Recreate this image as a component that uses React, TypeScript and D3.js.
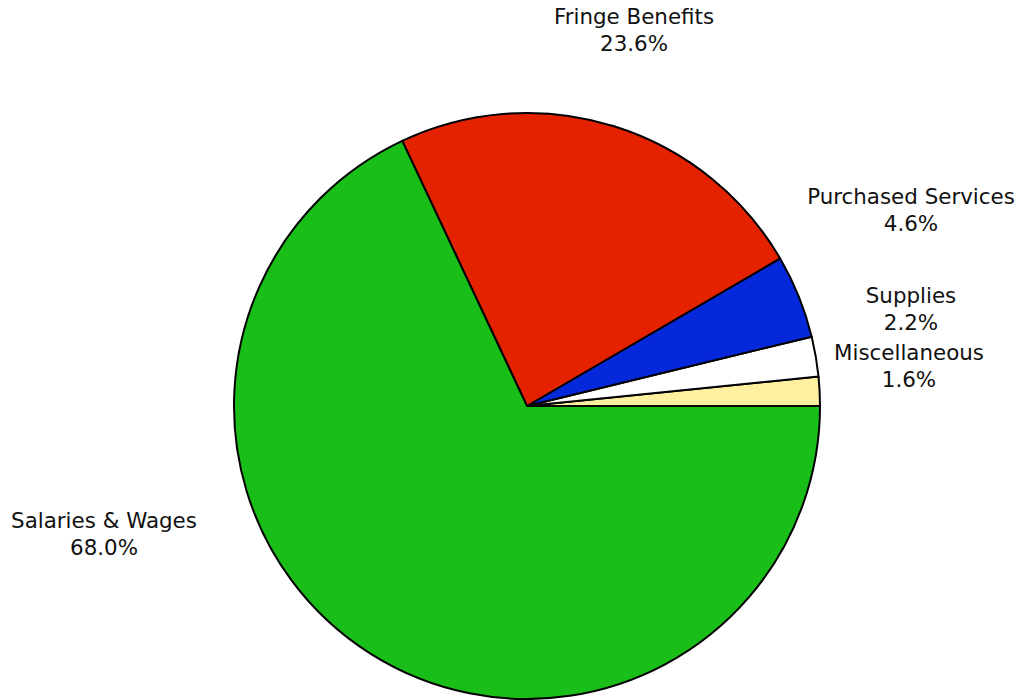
import React, { useEffect } from "react";
import * as d3 from "d3";

const categories = ["Miscellaneous", "Supplies", "Purchased Services", "Fringe Benefits", "Salaries & Wages"];
const values = [1.6, 2.2, 4.6, 23.6, 68.0];
const colors = ["#FFF0A0", "#FFFFFF", "#0628DB", "#E52200", "#19BE19"];
// label centre offsets from pie centre (layout, not data)
const labelOffsets: [number, number][] = [
  [382, -40],
  [384, -97],
  [384, -196],
  [107, -376],
  [-423, 128],
];

const W = 1020;
const H = 700;
const cx = 527;
const cy = 406;
const R = 293;

export default function App() {
  useEffect(() => {
    document.body.style.margin = "0";
  }, []);

  const pie = d3
    .pie<number>()
    .sort(null)
    .value((d) => d)
    .startAngle(Math.PI / 2)
    .endAngle(Math.PI / 2 - 2 * Math.PI);
  const arcs = pie(values);
  const arcGen = d3.arc<d3.PieArcDatum<number>>().innerRadius(0).outerRadius(R);

  return (
    <svg width={W} height={H} style={{ display: "block", background: "#fff" }}>
      <g transform={`translate(${cx},${cy})`}>
        {arcs.map((a, i) => (
          <path key={i} d={arcGen(a) || ""} fill={colors[i]} stroke="#000" strokeWidth={2} strokeLinejoin="round" />
        ))}
        {arcs.map((a, i) => {
          const [dx, dy] = labelOffsets[i];
          return (
            <text
              key={"t" + i}
              x={dx}
              y={dy}
              textAnchor="middle"
              fontFamily="'DejaVu Sans', sans-serif"
              fontSize={21.4}
              fill="#111"
            >
              <tspan x={dx} dy={-6}>{categories[i]}</tspan>
              <tspan x={dx} dy={27}>{values[i].toFixed(1) + "%"}</tspan>
            </text>
          );
        })}
      </g>
    </svg>
  );
}
